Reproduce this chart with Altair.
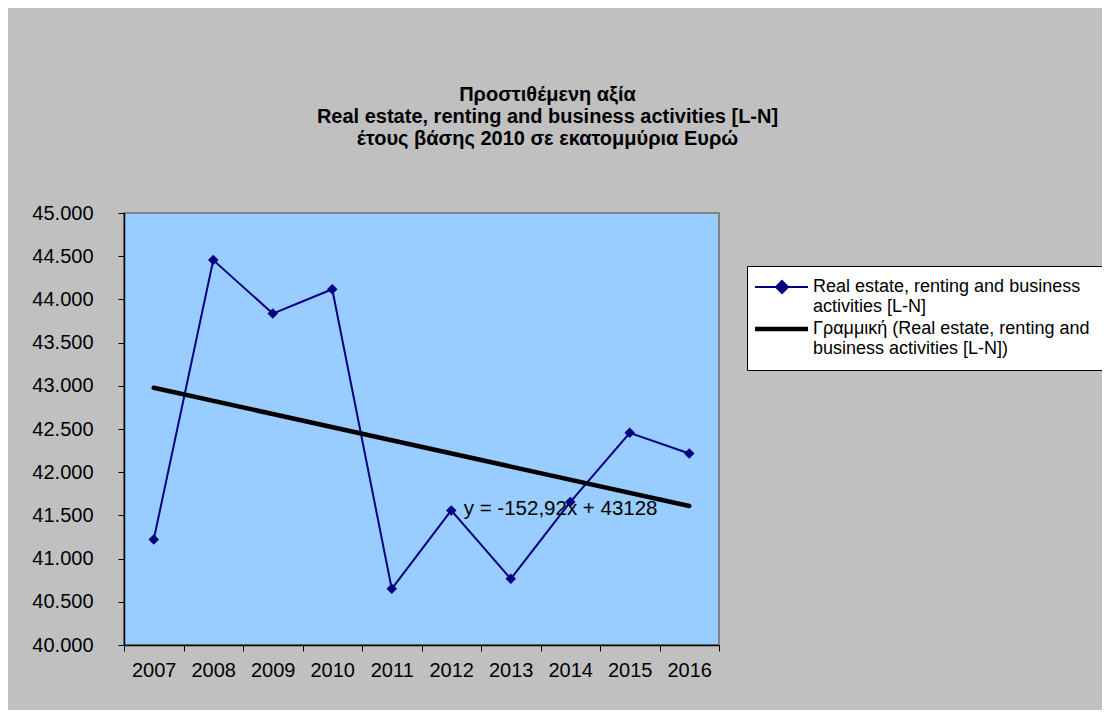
import json
import altair as alt
import pandas as pd

# ---- data ----
years = [2007, 2008, 2009, 2010, 2011, 2012, 2013, 2014, 2015, 2016]
values = [41222, 44455, 43836, 44118, 40650, 41558, 40766, 41655, 42456, 42216]

series_name = "Real estate, renting and business activities [L-N]"
trend_name = "Γραμμική (Real estate, renting and business activities [L-N])"
series_names = [series_name, trend_name]
legend_lines = {
    series_name: ["Real estate, renting and business", "activities [L-N]"],
    trend_name: ["Γραμμική (Real estate, renting and", "business activities [L-N])"],
}
title_lines = [
    "Προστιθέμενη αξία",
    "Real estate, renting and business activities [L-N]",
    "έτους βάσης 2010 σε εκατομμύρια Ευρώ",
]
equation_text = ["y = -152,92x + 43128"]
equation_year = [2012.21]
equation_value = [41578]

y_ticks = list(range(40000, 45001, 500))
x_ticks = [y - 0.5 for y in years] + [years[-1] + 0.5]

NAVY = "#000080"
FONT = "Liberation Sans"

df = pd.DataFrame({"year": years, "value": values, "series": series_name})
eq_df = pd.DataFrame({"year": equation_year, "value": equation_value, "text": equation_text})
leg_df = pd.DataFrame({"series": series_names})

W, H = 595, 432
band = W / len(years)

x_enc = alt.X(
    "year:Q",
    scale=alt.Scale(domain=[years[0] - 0.5, years[-1] + 0.5], nice=False, zero=False),
    axis=alt.Axis(
        values=x_ticks,
        labelExpr=f"datum.value > {years[-1]} ? '' : format(datum.value + 0.5, 'd')",
        labelOffset=band / 2,
        labelFlush=False,
        labelOverlap=False,
        grid=False,
        title=None,
        tickSize=6,
        labelPadding=9,
    ),
)
y_enc = alt.Y(
    "value:Q",
    scale=alt.Scale(domain=[40000, 45000], nice=False, zero=False),
    axis=alt.Axis(
        values=y_ticks,
        labelExpr="replace(format(datum.value, ',.0f'), ',', '.')",
        grid=False,
        title=None,
        tickSize=6,
        labelPadding=25,
    ),
)

label_expr = "datum.label == {s} ? {a} : {b}".format(
    s=json.dumps(series_name, ensure_ascii=False),
    a=json.dumps(legend_lines[series_name], ensure_ascii=False),
    b=json.dumps(legend_lines[trend_name], ensure_ascii=False),
)

legend = alt.Legend(
    title=None,
    orient="none",
    legendX=623,
    legendY=53,
    fillColor="white",
    strokeColor="black",
    padding=12,
    labelFont=FONT,
    labelFontSize=18,
    labelColor="black",
    labelExpr=label_expr,
    labelLimit=500,
    labelOffset=36,
    labelBaseline="middle",
    symbolSize=100,
    rowPadding=4,
)

color_scale = alt.Scale(domain=series_names, range=[NAVY, "#000000"])
stroke_enc = alt.Stroke("series:N", scale=color_scale, legend=legend)
fill_enc = alt.Fill("series:N", scale=color_scale, legend=legend)

# legend glyphs (unit = 5 px): a long line with a diamond for the series, a plain line for the trend
shape_paths = [
    "M-2.6,0L8,0M2.8,-1.2L4,0L2.8,1.2L1.6,0Z",
    "M-2.6,0L8,0",
]

base = alt.Chart(df)
line = base.mark_line(strokeWidth=2).encode(x=x_enc, y=y_enc, stroke=stroke_enc)
points = base.mark_point(shape="diamond", filled=True, size=110, opacity=1, strokeWidth=0).encode(
    x=x_enc, y=y_enc, fill=fill_enc
)
trend = (
    base.transform_regression("year", "value", extent=[years[0], years[-1]])
    .transform_calculate(series=json.dumps(trend_name, ensure_ascii=False))
    .mark_line(strokeWidth=4.5, strokeCap="round")
    .encode(x=x_enc, y=y_enc, stroke=stroke_enc)
)
eq = alt.Chart(eq_df).mark_text(
    align="left", baseline="middle", font=FONT, fontSize=20.5, color="black"
).encode(x=alt.X("year:Q"), y=alt.Y("value:Q"), text="text:N")

legend_layer = alt.Chart(leg_df).mark_point(clip=True, opacity=1, filled=True).encode(
    x=alt.value(-200),
    y=alt.value(-200),
    stroke=stroke_enc,
    fill=fill_enc,
    shape=alt.Shape("series:N", scale=alt.Scale(domain=series_names, range=shape_paths), legend=legend),
    strokeWidth=alt.StrokeWidth("series:N", scale=alt.Scale(domain=series_names, range=[2, 4.5]), legend=legend),
)

chart = (
    alt.layer(line, trend, points, eq, legend_layer)
    .properties(
        width=W,
        height=H,
        autosize=alt.AutoSizeParams(type="none"),
        padding={"left": 116, "top": 205, "right": 383, "bottom": 65},
        background="#C0C0C0",
        title=alt.TitleParams(
            text=title_lines,
            font=FONT,
            fontSize=20,
            fontWeight="bold",
            color="black",
            anchor="middle",
            dx=126,
            offset=34,
            baseline="bottom",
            lineHeight=22,
        ),
    )
    .configure_view(fill="#99CCFF", stroke="#808080", strokeWidth=2)
    .configure_axis(
        labelFont=FONT,
        labelFontSize=20,
        labelColor="black",
        domainColor="black",
        tickColor="black",
        domainWidth=1.5,
        tickWidth=1,
    )
)

chart.save("out.html", embed_options={"renderer": "svg", "actions": False})
